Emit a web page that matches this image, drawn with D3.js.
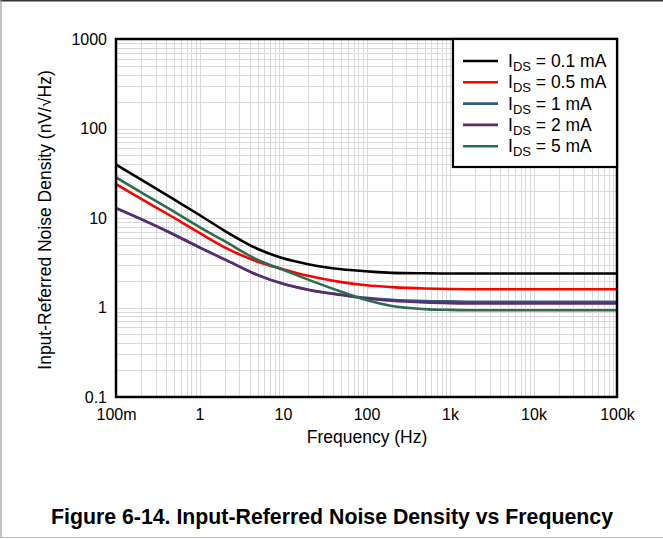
<!DOCTYPE html>
<html>
<head>
  <meta charset="utf-8">
  <script src="https://d3js.org/d3.v7.min.js"></script>
  <style>
    body { margin: 0; background: #fff; }
    text { font-family: "Liberation Sans", Arial, sans-serif; fill: #000; }
  </style>
</head>
<body>
  <div id="chart"></div>
<script>
  // frequency points (Hz) shared by every curve
  var freqs = [0.1, 0.2, 0.5, 1, 2, 5, 10, 20, 50, 100, 200, 500, 1000, 2000, 5000, 10000, 100000];

  // noise density, nV/rtHz
  var ids01 = [39.5, 26.8, 16.0, 10.8, 7.2, 4.5, 3.55, 3.05, 2.68, 2.54, 2.44, 2.41, 2.40, 2.40, 2.40, 2.40, 2.40];
  var ids05 = [23.9, 16.4, 10.0, 6.8, 4.7, 3.25, 2.68, 2.26, 1.92, 1.77, 1.69, 1.63, 1.61, 1.60, 1.60, 1.60, 1.60];
  var ids1  = [12.9, 9.7, 6.5, 4.7, 3.45, 2.3, 1.84, 1.58, 1.39, 1.28, 1.22, 1.18, 1.17, 1.16, 1.16, 1.16, 1.16];
  var ids2  = [12.9, 9.7, 6.5, 4.7, 3.45, 2.3, 1.84, 1.58, 1.38, 1.26, 1.19, 1.14, 1.12, 1.11, 1.11, 1.11, 1.11];
  var ids5  = [28.4, 19.3, 11.7, 7.9, 5.5, 3.4, 2.63, 2.05, 1.5, 1.21, 1.04, 0.96, 0.94, 0.93, 0.93, 0.93, 0.93];

  var seriesNames = ["0.1 mA", "0.5 mA", "1 mA", "2 mA", "5 mA"];
  var seriesColors = ["#000000", "#ff0000", "#2e5e7e", "#5b2c6f", "#2b6e4f"];
  var seriesValues = [ids01, ids05, ids1, ids2, ids5];

  var xTickVals = [0.1, 1, 10, 100, 1000, 10000, 100000];
  var xTickLabels = ["100m", "1", "10", "100", "1k", "10k", "100k"];
  var yTickVals = [0.1, 1, 10, 100, 1000];
  var yTickLabels = ["0.1", "1", "10", "100", "1000"];

  var W = 663, H = 539;
  var margin = {top: 39, right: 46, bottom: 142, left: 116},
      width = W - margin.left - margin.right,
      height = H - margin.top - margin.bottom;

  var svg = d3.select("#chart")
    .append("svg")
      .attr("width", W)
      .attr("height", H);

  svg.append("rect").attr("width", W).attr("height", H).attr("fill", "#fff");

  // page frame
  svg.append("line").attr("x1", 0).attr("x2", W).attr("y1", 0.75).attr("y2", 0.75)
    .attr("stroke", "#333").attr("stroke-width", 1.5);
  svg.append("line").attr("x1", 1).attr("x2", 1).attr("y1", 0).attr("y2", 538)
    .attr("stroke", "#999").attr("stroke-width", 1.2);
  svg.append("line").attr("x1", 0).attr("x2", W).attr("y1", 537.5).attr("y2", 537.5)
    .attr("stroke", "#bbb").attr("stroke-width", 1.2);

  svg.append("defs").append("clipPath").attr("id", "pageclip")
    .append("rect").attr("x", 0).attr("y", 0).attr("width", 636).attr("height", H);
  svg.append("defs").append("clipPath").attr("id", "plotclip")
    .append("rect").attr("x", 0).attr("y", 0).attr("width", width).attr("height", height);

  var g = svg.append("g")
    .attr("clip-path", "url(#pageclip)")
    .append("g")
    .attr("transform", "translate(" + margin.left + "," + margin.top + ")");

  var x = d3.scaleLog().domain([0.1, 100000]).range([0, width]);
  var y = d3.scaleLog().domain([0.1, 1000]).range([height, 0]);

  // grid: every 1..9 in each decade
  g.append("g").selectAll("line").data(x.ticks())
    .enter().append("line")
      .attr("x1", function(d) { return Math.round(x(d)) + 0.5; })
      .attr("x2", function(d) { return Math.round(x(d)) + 0.5; })
      .attr("y1", 0).attr("y2", height)
      .attr("stroke", "#dadada").attr("stroke-width", 1);
  g.append("g").selectAll("line").data(y.ticks())
    .enter().append("line")
      .attr("y1", function(d) { return Math.round(y(d)) + 0.5; })
      .attr("y2", function(d) { return Math.round(y(d)) + 0.5; })
      .attr("x1", 0).attr("x2", width)
      .attr("stroke", "#dadada").attr("stroke-width", 1);

  // axes (labels only, the frame is drawn as a box)
  var xAxis = g.append("g")
    .attr("transform", "translate(0," + height + ")")
    .call(d3.axisBottom(x).tickValues(xTickVals).tickSize(0).tickPadding(12)
      .tickFormat(function(d, i) { return xTickLabels[i]; }));
  var yAxis = g.append("g")
    .call(d3.axisLeft(y).tickValues(yTickVals).tickSize(0).tickPadding(9)
      .tickFormat(function(d, i) { return yTickLabels[i]; }));
  [xAxis, yAxis].forEach(function(a) {
    a.select(".domain").remove();
    a.selectAll("text").style("font-size", "16px").style("font-family", "Liberation Sans, Arial, sans-serif");
  });

  // curves
  var line = d3.line()
    .x(function(d) { return x(d[0]); })
    .y(function(d) { return y(d[1]); })
    .curve(d3.curveMonotoneX);

  var curves = g.append("g").attr("clip-path", "url(#plotclip)");
  seriesValues.forEach(function(vals, i) {
    curves.append("path")
      .datum(freqs.map(function(f, j) { return [f, vals[j]]; }))
      .attr("fill", "none")
      .attr("stroke", seriesColors[i])
      .attr("stroke-width", 2.6)
      .attr("d", line);
  });

  // plot frame
  g.append("rect").attr("x", 0).attr("y", 0).attr("width", width).attr("height", height)
    .attr("fill", "none").attr("stroke", "#000").attr("stroke-width", 2.5);

  // legend
  var lx = 453 - margin.left, lw = width - lx, lh = 167 - margin.top;
  var legend = g.append("g");
  legend.append("rect").attr("x", lx).attr("y", 0).attr("width", lw).attr("height", lh)
    .attr("fill", "#fff").attr("stroke", "#000").attr("stroke-width", 2.2);
  seriesNames.forEach(function(name, i) {
    var ly = 61 - margin.top + i * 21.3;
    legend.append("line")
      .attr("x1", lx + 10).attr("x2", lx + 45)
      .attr("y1", ly).attr("y2", ly)
      .attr("stroke", seriesColors[i]).attr("stroke-width", 2.6);
    var t = legend.append("text")
      .attr("x", lx + 55).attr("y", ly + 6)
      .style("font-size", "17.5px");
    t.append("tspan").text("I");
    t.append("tspan").attr("dy", 4).style("font-size", "13px").text("DS");
    t.append("tspan").attr("dy", -4).text(" = " + name);
  });

  // axis titles
  svg.append("text")
    .attr("x", 367).attr("y", 443)
    .attr("text-anchor", "middle")
    .style("font-size", "17.5px")
    .text("Frequency (Hz)");
  svg.append("text")
    .attr("transform", "translate(51,220) rotate(-90)")
    .attr("text-anchor", "middle")
    .style("font-size", "17.5px")
    .text("Input-Referred Noise Density (nV/\u221AHz)");

  // caption
  svg.append("text")
    .attr("x", 332).attr("y", 524)
    .attr("text-anchor", "middle")
    .attr("textLength", 562).attr("lengthAdjust", "spacingAndGlyphs")
    .style("font-size", "22px").style("font-weight", "bold")
    .style("font-family", "Liberation Sans Narrow, Arial Narrow, Liberation Sans, Arial, sans-serif")
    .text("Figure 6-14. Input-Referred Noise Density vs Frequency");
</script>
</body>
</html>
